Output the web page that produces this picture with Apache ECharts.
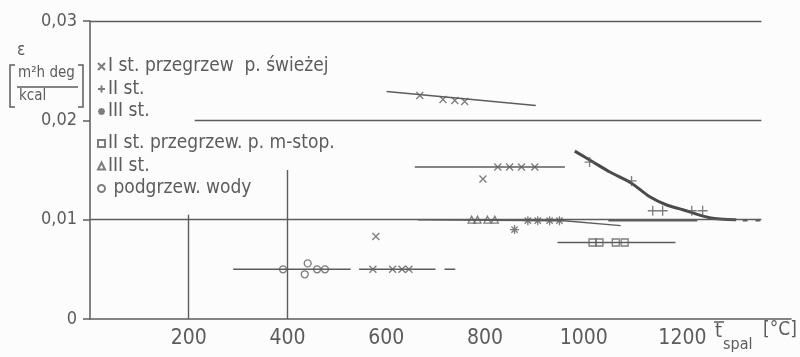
<!DOCTYPE html>
<html>
<head>
<meta charset="utf-8">
<script src="https://cdn.jsdelivr.net/npm/echarts@6/dist/echarts.min.js"></script>
<style>
  html, body { margin: 0; padding: 0; background: #fcfcfc; }
  #chart { width: 800px; height: 357px; }
</style>
</head>
<body>
<div id="chart"></div>
<script>
// values: [t_spal °C, epsilon]
const ptsSwiezejI = [
  [668, 0.0225], [715, 0.0221], [739, 0.0220], [759, 0.0219],
  [826, 0.0153], [850, 0.0153], [874, 0.0153], [901, 0.0153],
  [796, 0.0141], [579, 0.0083],
  [573, 0.0050], [613, 0.0050], [632, 0.0050], [646, 0.0050]
];
const ptsSwiezejII = [[1012, 0.0158], [1097, 0.0139], [1140, 0.0109], [1160, 0.0109], [1219, 0.0109], [1241, 0.0109]];
const ptsSwiezejIII = [[860, 0.0090], [887, 0.0099], [907, 0.0099], [931, 0.0099], [951, 0.0099]];
const ptsStopII = [[1018, 0.0077], [1032, 0.0077], [1065, 0.0077], [1083, 0.0077]];
const ptsStopIII = [[773, 0.0100], [785, 0.0100], [805, 0.0100], [820, 0.0100]];
const ptsWody = [[391, 0.0050], [435, 0.0045], [441, 0.0056], [460, 0.0050], [476, 0.0050]];

// hand-drawn trend lines
const trendSegments = [
  [[601, 0.0229], [903, 0.0215]],
  [[658, 0.0153], [962, 0.0153]],
  [[664, 0.0100], [960, 0.0099], [1075, 0.0094]],
  [[1050, 0.0099], [1230, 0.0099]],
  [[947, 0.0077], [1186, 0.0077]],
  [[290, 0.0050], [528, 0.0050]],
  [[545, 0.0050], [700, 0.0050]],
  [[718, 0.0050], [740, 0.0050]],
  [[1322, 0.0099], [1332, 0.0099]],
  [[1348, 0.0099], [1358, 0.0099]]
];
const curvePlus = [
  [982, 0.0169], [1019, 0.0158], [1053, 0.0148], [1096, 0.0137], [1134, 0.0123],
  [1167, 0.0115], [1201, 0.0110], [1255, 0.0102], [1309, 0.0100]
];

// grid lines as drawn on the sheet (partial where the legend sits)
const vGrid = [[200, 0.0105], [400, 0.0150], [600, 0.0307], [800, 0.0307], [1000, 0.0307], [1200, 0.0307]];
const hGrid = [[0.01, 0], [0.02, 212], [0.03, 0]];

const INK = '#5c5c5c';
const FONT = '"DejaVu Sans Condensed", "Liberation Sans Narrow", sans-serif';

const SYM = {
  cross: 'path://M0,0L10,10M0,10L10,0',
  plus: 'path://M5,0L5,10M0,5L10,5',
  star: 'path://M5,0L5,10M0,5L10,5M1.5,1.5L8.5,8.5M1.5,8.5L8.5,1.5'
};

const NAMES = ['sw1', 'sw2', 'sw3', 'st2', 'st3', 'woda'];
const LABELS = {
  sw1: 'I st. przegrzew  p. świeżej',
  sw2: 'II st.',
  sw3: 'III st.',
  st2: 'II st. przegrzew. p. m-stop.',
  st3: 'III st.',
  woda: ' podgrzew. wody'
};

const markerSeries = (name, data, symbol, size) => ({
  name, type: 'scatter', data, symbol, symbolSize: size, z: 5,
  itemStyle: { color: 'rgba(0,0,0,0)', borderColor: INK, borderWidth: 1.3 },
  emphasis: { disabled: true }
});

const chart = echarts.init(document.getElementById('chart'), null, { renderer: 'canvas' });

const legendBase = {
  orient: 'vertical', left: 97, padding: 0, itemGap: 3.5, itemWidth: 7, itemHeight: 7,
  selectedMode: false, formatter: (n) => LABELS[n],
  textStyle: { color: INK, fontSize: 19, fontFamily: FONT, padding: [0, 0, 0, -2] }
};

chart.setOption({
  backgroundColor: '#fcfcfc',
  animation: false,
  grid: { left: 90, right: 9, top: 21, bottom: 38 },
  legend: [
    { ...legendBase, top: 57, data: NAMES.slice(0, 3) },
    { ...legendBase, top: 134, data: NAMES.slice(3) }
  ],
  xAxis: {
    type: 'value', min: 0, max: 1420, interval: 200,
    axisLine: { lineStyle: { color: INK, width: 1.5 } },
    axisTick: { show: false },
    splitLine: { show: false },
    axisLabel: {
      color: INK, fontSize: 21, fontFamily: FONT, margin: 9,
      formatter: (v) => (v > 0 && v <= 1200 ? String(v) : '')
    }
  },
  yAxis: {
    type: 'value', min: 0, max: 0.03, interval: 0.01,
    axisLine: { show: true, lineStyle: { color: INK, width: 1.5 } },
    axisTick: { show: true, length: 7, lineStyle: { color: INK, width: 1.5 } },
    splitLine: { show: false },
    axisLabel: {
      color: INK, fontSize: 18, fontFamily: FONT, margin: 13,
      formatter: (v) => (v === 0 ? '0' : v.toFixed(2).replace('.', ','))
    }
  },
  graphic: [
    { type: 'text', left: 17, top: 42, style: { text: 'ε', fill: INK, font: '17px ' + FONT } },
    { type: 'text', left: 18, top: 66, style: { text: 'm²h deg', fill: INK, font: '15px ' + FONT } },
    { type: 'line', shape: { x1: 17, y1: 87, x2: 78, y2: 87 }, style: { stroke: INK, lineWidth: 1.5 } },
    { type: 'text', left: 19, top: 89, style: { text: 'kcal', fill: INK, font: '15px ' + FONT } },
    { type: 'polyline', shape: { points: [[15, 65], [10, 65], [10, 107], [15, 107]] }, style: { stroke: INK, lineWidth: 1.5, fill: null } },
    { type: 'polyline', shape: { points: [[78, 65], [83, 65], [83, 107], [78, 107]] }, style: { stroke: INK, lineWidth: 1.5, fill: null } },
    // axis name: t-bar with "spal" subscript
    { type: 'text', left: 715, top: 322, style: { text: 't', fill: INK, font: '20px ' + FONT } },
    { type: 'line', shape: { x1: 714, y1: 322, x2: 724, y2: 322 }, style: { stroke: INK, lineWidth: 1.5 } },
    { type: 'text', left: 723, top: 337, style: { text: 'spal', fill: INK, font: '16px ' + FONT } },
    { type: 'text', left: 763, top: 321, style: { text: '[°C]', fill: INK, font: '19px ' + FONT } }
  ],
  series: [
    {
      type: 'line', data: [], silent: true, clip: false,
      markLine: {
        silent: true, symbol: ['none', 'none'], label: { show: false },
        lineStyle: { color: INK, width: 1.4, type: 'solid' },
        emphasis: { disabled: true },
        data: [
          ...vGrid.map(([x, top]) => [{ coord: [x, 0] }, { coord: [x, top] }]),
          ...hGrid.map(([y, from]) => [{ coord: [from, y] }, { coord: [1360, y] }])
        ]
      }
    },
    ...trendSegments.map((seg) => ({
      type: 'line', data: seg, symbol: 'none', silent: true,
      lineStyle: { color: INK, width: 1.5 }
    })),
    {
      type: 'line', data: curvePlus, smooth: 0.3, symbol: 'none', silent: true,
      lineStyle: { color: '#4a4a4a', width: 3 }
    },
    markerSeries('sw1', ptsSwiezejI, SYM.cross, 7),
    markerSeries('sw2', ptsSwiezejII, SYM.plus, 10),
    markerSeries('sw3', ptsSwiezejIII, SYM.star, 9),
    markerSeries('st2', ptsStopII, 'rect', 7),
    markerSeries('st3', ptsStopIII, 'triangle', 7),
    markerSeries('woda', ptsWody, 'circle', 7)
  ]
});
</script>
</body>
</html>
